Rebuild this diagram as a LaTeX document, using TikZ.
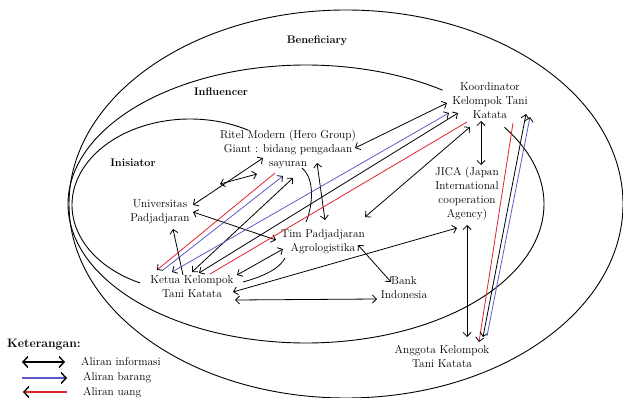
\documentclass[tikz,border=0pt]{standalone}
\usetikzlibrary{arrows.meta}
\definecolor{myred}{RGB}{225,35,45}
\definecolor{myblue}{RGB}{95,90,200}
\tikzset{
  SB/.tip={Straight Barb[length=4pt,width=8pt,color=black]},
  LG/.tip={Straight Barb[length=5pt,width=11pt,color=black]}
}
\begin{document}
\begin{tikzpicture}[x=1pt,y=-1pt,
  every node/.style={inner sep=0pt, align=center, font=\fontsize{11.4}{14}\selectfont},
  lbl/.style={font=\fontsize{11}{13}\selectfont\bfseries},
  ell/.style={line width=0.9pt},
  con/.style={line width=0.8pt},
  both/.style={con,SB-SB},
  one/.style={con,-SB},
  plain/.style={con},
  lg/.style={line width=1.4pt}
]
\useasboundingbox (0,0) rectangle (623,398);

% shells
\draw[ell] (346,204) ellipse [x radius=277pt, y radius=194pt];
\draw[ell] plot[domain=-33.5:305, samples=200, smooth] ({306+238*cos(\x)},{204+139*sin(\x)});
\draw[ell] plot[domain=-60.4:-245, samples=120, smooth] ({190+118*cos(\x)},{205+86*sin(\x)});

% labels
\node[lbl] (lben) at (317,41) {Beneficiary};
\node[lbl] (linf) at (221,92) {Influencer};
\node[lbl] (lini) at (133,163) {Inisiator};

% actors
\node (koord) at (490,101) {Koordinator\\Kelompok Tani\\Katata};
\node (ritel) at (288,149) {Ritel Modern (Hero Group)\\Giant : bidang pengadaan\\sayuran};
\node (jica) at (467,194) {JICA (Japan\\International\\cooperation\\Agency)};
\node (univ) at (160,212) {Universitas\\Padjadjaran};
\node (tim) at (323,242) {Tim Padjadjaran\\Agrologistika};
\node (ketua) at (192,287) {Ketua Kelompok\\Tani Katata};
\node (bank) at (404,288) {Bank\\Indonesia};
\node (anggota) at (442,356) {Anggota Kelompok\\Tani Katata};

% connectors
\draw[both] ([shift={(33,-7)}]univ.center) -- ([shift={(-25,9)}]ritel.center);
\draw[both] ([shift={(60,-28)}]univ.center) -- ([shift={(-31,25)}]ritel.center);
\draw[one, myred] ([shift={(-13,24)}]ritel.center) -- ([shift={(-35,-17)}]ketua.center);
\draw[one, myblue] ([shift={(-29,-17)}]ketua.center) -- ([shift={(-5,27)}]ritel.center);
\draw[both] ([shift={(0,-15)}]ketua.center) -- ([shift={(5,29)}]ritel.center);
\draw[one] ([shift={(-9,-12)}]ketua.center) -- ([shift={(13,17)}]univ.center);
\draw[both] ([shift={(33,0)}]univ.center) -- ([shift={(-47,-2)}]tim.center);
\draw[both] ([shift={(45,-12)}]ketua.center) -- ([shift={(-40,7)}]tim.center);
\draw[plain] ([shift={(51,-5)}]ketua.center) .. controls +(22,-6) and +(-5,10) .. ([shift={(-38,16)}]tim.center);
\draw[both] ([shift={(41,5)}]ketua.center) -- ([shift={(-10,34)}]jica.center);
\draw[both] ([shift={(43,13)}]ketua.center) -- ([shift={(-27,11)}]bank.center);
\draw[both] ([shift={(35,3)}]tim.center) -- ([shift={(-13,-6)}]bank.center);
\draw[both] ([shift={(29,14)}]ritel.center) -- ([shift={(2,-22)}]tim.center);
\draw[plain] ([shift={(14,19)}]ritel.center) .. controls +(14,12) and +(6,-14) .. ([shift={(-17,-20)}]tim.center);
\draw[both] ([shift={(67,-1)}]ritel.center) -- ([shift={(-43,2)}]koord.center);
\draw[both, myblue] ([shift={(-20,-15)}]ketua.center) -- ([shift={(-41,12)}]koord.center);
\draw[both] ([shift={(7,-14)}]ketua.center) -- ([shift={(-32,12)}]koord.center);
\draw[plain, myred] ([shift={(-23,21)}]koord.center) -- ([shift={(18,-13)}]ketua.center);
\draw[both] ([shift={(-20,26)}]koord.center) -- ([shift={(42,-25)}]tim.center);
\draw[both] ([shift={(-9,20)}]koord.center) -- ([shift={(14,-29)}]jica.center);
\draw[both] ([shift={(0,31)}]jica.center) -- ([shift={(25,-19)}]anggota.center);
\draw[one, myred] ([shift={(23,22)}]koord.center) -- ([shift={(37,-14)}]anggota.center);
\draw[both] ([shift={(41,-19)}]anggota.center) -- ([shift={(36,13)}]koord.center);
\draw[one, myblue] ([shift={(45,-20)}]anggota.center) -- ([shift={(40,16)}]koord.center);

% legend
\node[anchor=west, font=\fontsize{12.2}{14}\selectfont\bfseries] (ket) at (7,345) {Keterangan:};
\node[anchor=west] (li) at (81,361) {Aliran informasi};
\node[anchor=west] (lb) at (83,378) {Aliran barang};
\node[anchor=west] (lu) at (83,393) {Aliran uang};
\coordinate (a1) at (22,362); \coordinate (a2) at (65,362);
\coordinate (b1) at (22,378); \coordinate (b2) at (67,378);
\coordinate (c1) at (23,392); \coordinate (c2) at (67,392);
\draw[lg, LG-LG] (a1) -- (a2);
\draw[lg, myblue, -LG] (b1) -- (b2);
\draw[lg, myred, LG-] (c1) -- (c2);
\end{tikzpicture}
\end{document}
